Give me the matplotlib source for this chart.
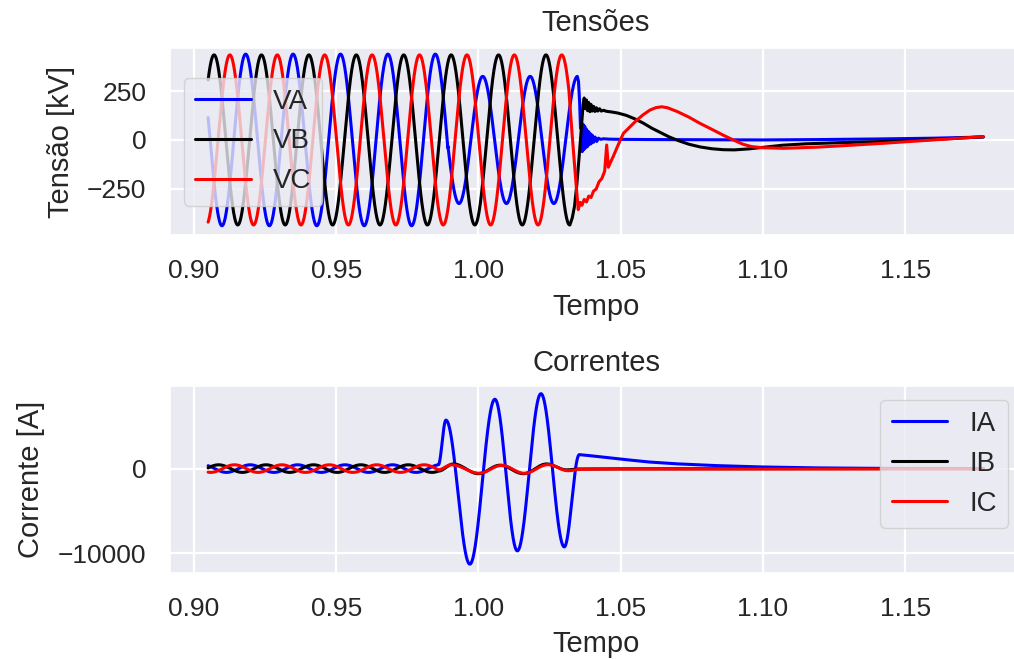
import numpy as np
import matplotlib
matplotlib.use("Agg")
import matplotlib.pyplot as plt
import seaborn as sns

# ---------------- data ----------------
f_hz = 60.0                 # system frequency
t_start, t_end = 0.9050, 1.1775

# steady-state voltages (kV): amplitude and time of first peak of VA
v_amp = 440.0
v_amp_bc = 436.0
tpeak_va = 0.9182
va_fault_start = 0.9893     # VA amplitude drops (zero crossing)
va_fault_amp = 326.0
va_sin_end, vb_sin_end, vc_sin_end = 1.0348, 1.0322, 1.0318

# voltage transients after breaker opening (t, kV)
va_tr_t = [1.0352, 1.0356, 1.0359, 1.0362, 1.0365, 1.0368, 1.0371, 1.0374, 1.0377,
           1.0380, 1.0383, 1.0386, 1.0389, 1.0392, 1.0396, 1.0400, 1.0405, 1.0410,
           1.0416, 1.0422, 1.0430, 1.0440, 1.0460, 1.0500, 1.0600, 1.0800, 1.1000,
           1.1200, 1.1400, 1.1600, 1.1775]
va_tr_v = [300, 190, 60, 95, -60, 80, -50, 70, -40, 55, -35, 45, -25, 35, -20, 25,
           -12, 15, -8, 9, 3, 6, 4, 3, 2, 1, 0, 2, 5, 9, 15]

vb_tr_t = [1.0330, 1.0338, 1.0346, 1.0354, 1.0362, 1.0368, 1.0372, 1.0376, 1.0380,
           1.0384, 1.0388, 1.0392, 1.0396, 1.0400, 1.0405, 1.0410, 1.0415, 1.0420,
           1.0426, 1.0432, 1.0440, 1.0450, 1.0470, 1.0490, 1.0520, 1.0550, 1.0580,
           1.0610, 1.0640, 1.0670, 1.0700, 1.0740, 1.0780, 1.0820, 1.0860, 1.0900,
           1.0950, 1.1000, 1.1070, 1.1150, 1.1250, 1.1350, 1.1450, 1.1550, 1.1650,
           1.1775]
vb_tr_v = [-400, -340, -230, -90, 60, 180, 215, 160, 205, 150, 192, 145, 182, 148,
           172, 146, 165, 148, 160, 148, 152, 147, 143, 138, 126, 108, 86, 60, 38,
           16, -2, -22, -36, -45, -50, -51, -46, -38, -27, -20, -15, -11, -7, -1,
           6, 16]

vc_tr_t = [1.0330, 1.0342, 1.0351, 1.0358, 1.0364, 1.0372, 1.0380, 1.0388, 1.0396,
           1.0405, 1.0414, 1.0424, 1.0434, 1.0444, 1.0451, 1.0457, 1.0466, 1.0474,
           1.0490, 1.0510, 1.0535, 1.0557, 1.0580, 1.0603, 1.0625, 1.0645, 1.0665,
           1.0700, 1.0740, 1.0779, 1.0820, 1.0860, 1.0896, 1.0930, 1.0960, 1.1000,
           1.1072, 1.1190, 1.1300, 1.1424, 1.1550, 1.1650, 1.1775]
vc_tr_v = [20, -200, -357, -320, -335, -305, -318, -288, -295, -262, -252, -215,
           -198, -160, -26, -140, -110, -85, -30, 34, 70, 102, 130, 153, 166, 170,
           165, 145, 117, 85, 55, 25, 0, -22, -34, -40, -43, -37, -28, -17, -5, 5, 17]

# currents (A)
i_amp = 450.0
tpeak_ia = 0.9198
i_fault_start = 0.9859
ia_f_t = [0.9859, 0.9886, 0.9970, 1.0058, 1.0137, 1.0220, 1.0302, 1.0355]
ia_f_v = [440, 5730, -11300, 8200, -9730, 8860, -9260, 1650]
ia_d_t = [1.0400, 1.0460, 1.0530, 1.0600, 1.0700, 1.0840, 1.1000, 1.1200, 1.1400,
          1.1600, 1.1775]
ia_d_v = [1500, 1280, 1020, 780, 560, 350, 190, 80, 30, 10, 0]

ib_f_t = [0.9859, 0.9912, 1.0000, 1.0076, 1.0158, 1.0240, 1.0310, 1.0355]
ib_f_v = [-300, 550, -600, 400, -600, 550, -150, -50]
ib_d_t = [1.0500, 1.1775]
ib_d_v = [-30, 0]

ic_f_t = [0.9859, 0.9905, 1.0003, 1.0082, 1.0162, 1.0245, 1.0315, 1.0360]
ic_f_v = [-140, 450, -550, 380, -560, 470, -250, -80]
ic_d_t = [1.0500, 1.1775]
ic_d_v = [-50, -30]

xticks = [0.90, 0.95, 1.00, 1.05, 1.10, 1.15]
v_yticks = [-250, 0, 250]
i_yticks = [-10000, 0]

# ---------------- helpers ----------------
w = 2 * np.pi * f_hz
T = 1.0 / f_hz
dt = 2e-5


def halfwaves(ts, vs):
    xs, ys = [], []
    for (t0, v0, t1, v1) in zip(ts[:-1], vs[:-1], ts[1:], vs[1:]):
        tt = np.arange(t0, t1, dt)
        s = (tt - t0) / (t1 - t0)
        xs.append(tt)
        ys.append(v0 + (v1 - v0) * (1 - np.cos(np.pi * s)) / 2)
    xs.append(np.array([ts[-1]]))
    ys.append(np.array([vs[-1]]))
    return np.concatenate(xs), np.concatenate(ys)


# voltages
ta = np.arange(t_start, va_sin_end, dt)
amp_a = np.where(ta < va_fault_start, v_amp, va_fault_amp)
va_y = amp_a * np.cos(w * (ta - tpeak_va))
va_x = np.concatenate([ta, va_tr_t])
va_y = np.concatenate([va_y, va_tr_v])

tb = np.arange(t_start, vb_sin_end, dt)
vb_x = np.concatenate([tb, vb_tr_t])
vb_y = np.concatenate([v_amp_bc * np.cos(w * (tb - tpeak_va - T / 3)), vb_tr_v])

tc = np.arange(t_start, vc_sin_end, dt)
vc_x = np.concatenate([tc, vc_tr_t])
vc_y = np.concatenate([v_amp_bc * np.cos(w * (tc - tpeak_va - 2 * T / 3)), vc_tr_v])

# currents
tp = np.arange(t_start, i_fault_start, dt)


def current(shift, f_t, f_v, d_t, d_v):
    pre = i_amp * np.cos(w * (tp - tpeak_ia - shift))
    fx, fy = halfwaves(f_t, f_v)
    return (np.concatenate([tp, fx, d_t]), np.concatenate([pre, fy, d_v]))


ia_x, ia_y = current(0.0, ia_f_t, ia_f_v, ia_d_t, ia_d_v)
ib_x, ib_y = current(T / 3, ib_f_t, ib_f_v, ib_d_t, ib_d_v)
ic_x, ic_y = current(2 * T / 3, ic_f_t, ic_f_v, ic_d_t, ic_d_v)

# ---------------- plotting ----------------
sns.set_theme(style="darkgrid")
plt.rcParams['font.family'] = ['Liberation Sans', 'DejaVu Sans']
plt.rcParams['axes.unicode_minus'] = True

fig = plt.figure(figsize=(10.14, 6.59), dpi=100)
W, H = 1014.0, 659.0
# the reference is cropped on the right: the axes run slightly past the edge
ax1 = fig.add_axes([170 / W, 1 - 235.5 / H, 852 / W, 188 / H])
ax2 = fig.add_axes([170 / W, 1 - 573 / H, 852 / W, 187 / H])

lw = 2.2
ax1.plot(va_x, va_y, color='blue', lw=lw, label='VA')
ax1.plot(vb_x, vb_y, color='black', lw=lw, label='VB')
ax1.plot(vc_x, vc_y, color='red', lw=lw, label='VC')

ax2.plot(ia_x, ia_y, color='blue', lw=lw, label='IA')
ax2.plot(ib_x, ib_y, color='black', lw=lw, label='IB')
ax2.plot(ic_x, ic_y, color='red', lw=lw, label='IC')

tick_fs = 19
lab_fs = 21
leg_fs = 20
for ax in (ax1, ax2):
    ax.set_xlim(0.8916, 1.1911)
    ax.set_xticks(xticks)
    ax.set_xticklabels([f"{x:.2f}" for x in xticks])
    ax.tick_params(labelsize=tick_fs, length=0, pad=17)
    ax.grid(True, color='white', lw=1.6)
    ax.set_xlabel('Tempo', fontsize=lab_fs, labelpad=7)

ax1.set_ylim(-490, 474)
ax1.set_yticks(v_yticks)
ax1.set_ylabel('Tensão [kV]', fontsize=lab_fs, labelpad=9)
ax1.set_title('Tensões', fontsize=lab_fs, pad=12)
ax1.legend(loc='center left', fontsize=leg_fs)

ax2.set_ylim(-12350, 9770)
ax2.set_yticks(i_yticks)
ax2.set_ylabel('Corrente [A]', fontsize=lab_fs, labelpad=9)
ax2.set_title('Correntes', fontsize=lab_fs, pad=11)
ax2.legend(loc='upper right', fontsize=leg_fs)

fig.savefig('out.png', dpi=100)
